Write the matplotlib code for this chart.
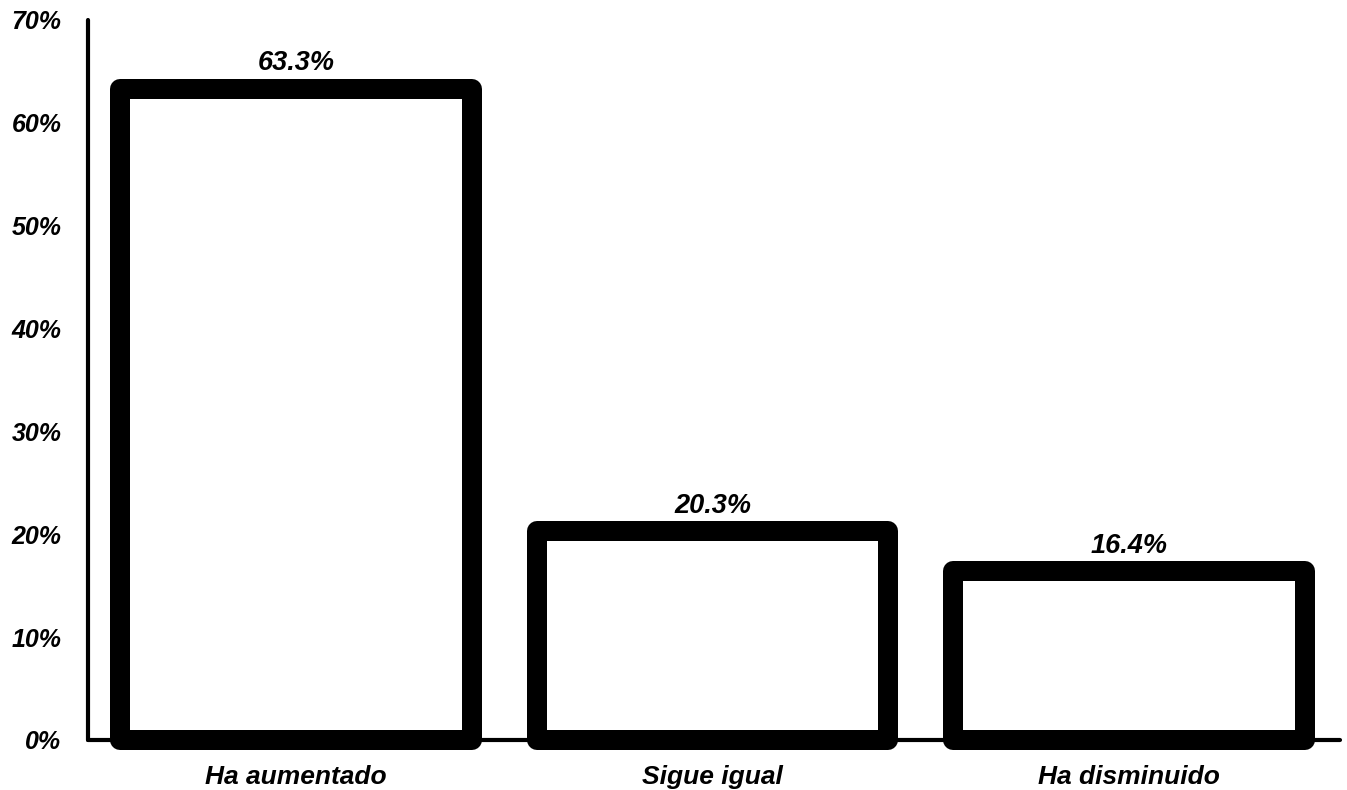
import matplotlib
matplotlib.use('Agg')
from matplotlib import pyplot as plt
from matplotlib.ticker import PercentFormatter

categories = ['Ha aumentado', 'Sigue igual', 'Ha disminuido']
values = [0.633, 0.203, 0.164]
value_labels = ['63.3%', '20.3%', '16.4%']
y_ticks = [0, 0.1, 0.2, 0.3, 0.4, 0.5, 0.6, 0.7]

plt.rcParams['font.family'] = ['Liberation Sans', 'DejaVu Sans']

fig = plt.figure(figsize=(13.47, 7.9), dpi=100)
ax = fig.add_axes([0.0653, 0.0633, 0.9295, 0.9114])

x = list(range(len(categories)))
bars = ax.bar(x, values, width=0.845, color='white', edgecolor='black',
              linewidth=14.4, joinstyle='round', clip_on=False, zorder=3)

# value labels just above the thick top edge
for i, b in enumerate(bars):
    ax.annotate(value_labels[i], (b.get_x() + b.get_width() / 2, b.get_height()),
                xytext=(0, 9), textcoords='offset points', ha='center', va='bottom',
                fontsize=19.5, fontweight='bold', fontstyle='italic')

ax.set_xlim(-0.5, 2.507)
ax.set_ylim(0, 0.70)
ax.set_yticks(y_ticks)
ax.yaxis.set_major_formatter(PercentFormatter(1.0, decimals=0))
ax.set_xticks(x)
ax.set_xticklabels(categories)

for lab in ax.get_xticklabels():
    lab.set_fontsize(19)
    lab.set_fontweight('bold')
    lab.set_fontstyle('italic')
for lab in ax.get_yticklabels():
    lab.set_fontsize(18)
    lab.set_fontweight('bold')
    lab.set_fontstyle('italic')

ax.tick_params(axis='y', length=0, pad=19)
ax.tick_params(axis='x', length=0, pad=18)

for side in ['top', 'right']:
    ax.spines[side].set_visible(False)
for side in ['left', 'bottom']:
    ax.spines[side].set_linewidth(3)
    ax.spines[side].set_capstyle('round')

fig.savefig('out.png', dpi=100, facecolor='white')
